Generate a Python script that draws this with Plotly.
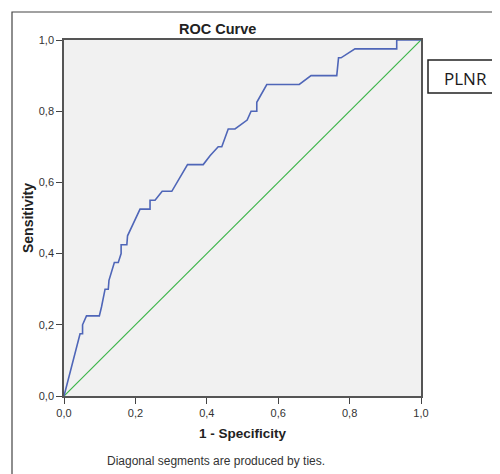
import plotly.graph_objects as go

# ROC curve points (1 - Specificity, Sensitivity)
fpr = [0, 0.045, 0.052, 0.052, 0.063, 0.099, 0.105, 0.115, 0.124, 0.126, 0.141, 0.152,
       0.160, 0.160, 0.176, 0.178, 0.213, 0.241, 0.241, 0.255, 0.275, 0.302, 0.346,
       0.390, 0.409, 0.432, 0.442, 0.460, 0.479, 0.513, 0.524, 0.540, 0.540, 0.568,
       0.659, 0.692, 0.764, 0.769, 0.776, 0.815, 0.932, 0.932, 1.0]
tpr = [0, 0.175, 0.175, 0.200, 0.225, 0.225, 0.250, 0.300, 0.300, 0.325, 0.375, 0.375,
       0.400, 0.425, 0.425, 0.450, 0.525, 0.525, 0.550, 0.550, 0.575, 0.575, 0.650,
       0.650, 0.675, 0.700, 0.700, 0.750, 0.750, 0.775, 0.800, 0.800, 0.825, 0.875,
       0.875, 0.900, 0.900, 0.950, 0.950, 0.975, 0.975, 1.0, 1.0]
ref_x = [0, 1]
ref_y = [0, 1]
tick_vals = [0, 0.2, 0.4, 0.6, 0.8, 1.0]

FONT = "Liberation Sans, Arial, sans-serif"

fig = go.Figure()
fig.add_trace(go.Scatter(x=ref_x, y=ref_y, mode="lines",
                         line=dict(color="#3db54a", width=1.2), showlegend=False,
                         hoverinfo="skip"))
fig.add_trace(go.Scatter(x=fpr, y=tpr, mode="lines",
                         line=dict(color="#4f66b8", width=1.6), showlegend=False))

axis_common = dict(range=[0, 1], tickvals=tick_vals, tickformat=".1f",
                   showgrid=False, zeroline=False, showline=True, mirror=True,
                   linecolor="#555555", linewidth=1.5, ticks="outside", ticklen=6,
                   tickcolor="#444444", tickwidth=1.2,
                   tickfont=dict(family=FONT, size=11, color="#333333"))

# page offset of 8px (body margin) -> figure placed at (8, 8)
fig.update_layout(
    width=500, height=474,
    margin=dict(l=56, r=87, t=32, b=86),
    paper_bgcolor="white", plot_bgcolor="#f1f1f1",
    separators=",.",
    xaxis=dict(**axis_common),
    yaxis=dict(**axis_common),
    font=dict(family=FONT),
)

# page pixel -> paper coords (plot area occupies page x 64..421, y 40..396)
def px(x):
    return (x - 64) / 357

def py(y):
    return (396 - y) / 356

# Outer frame
fig.add_shape(type="rect", xref="paper", yref="paper",
              x0=px(12), x1=px(530), y0=py(500), y1=py(12),
              line=dict(color="#444444", width=1.2), fillcolor="rgba(0,0,0,0)", layer="below")
# PLNR box
fig.add_shape(type="rect", xref="paper", yref="paper",
              x0=px(428), x1=px(515), y0=py(93), y1=py(60),
              line=dict(color="#222222", width=1.5), fillcolor="white")

ann = [
    dict(text="<b>ROC Curve</b>", x=px(217), y=py(29), size=14.5, color="#222222"),
    dict(text="<b>1 - Specificity</b>", x=0.5, y=py(433), size=13.5, color="#222222"),
    dict(text="Diagonal segments are produced by ties.", x=px(216), y=py(461),
         size=12, color="#333333"),
    dict(text="PLNR", x=px(465), y=py(78), size=17, color="#1a1a1a",
         family="Open Sans, sans-serif"),
]
for a in ann:
    fig.add_annotation(text=a["text"], x=a["x"], y=a["y"], xref="paper", yref="paper",
                       showarrow=False, xanchor="center", yanchor="middle",
                       font=dict(family=a.get("family", FONT), size=a["size"], color=a["color"]))
fig.add_annotation(text="<b>Sensitivity</b>", x=px(28), y=0.5, xref="paper", yref="paper",
                   showarrow=False, textangle=-90, xanchor="center", yanchor="middle",
                   font=dict(family=FONT, size=14, color="#222222"))

fig.write_html("out.html")
